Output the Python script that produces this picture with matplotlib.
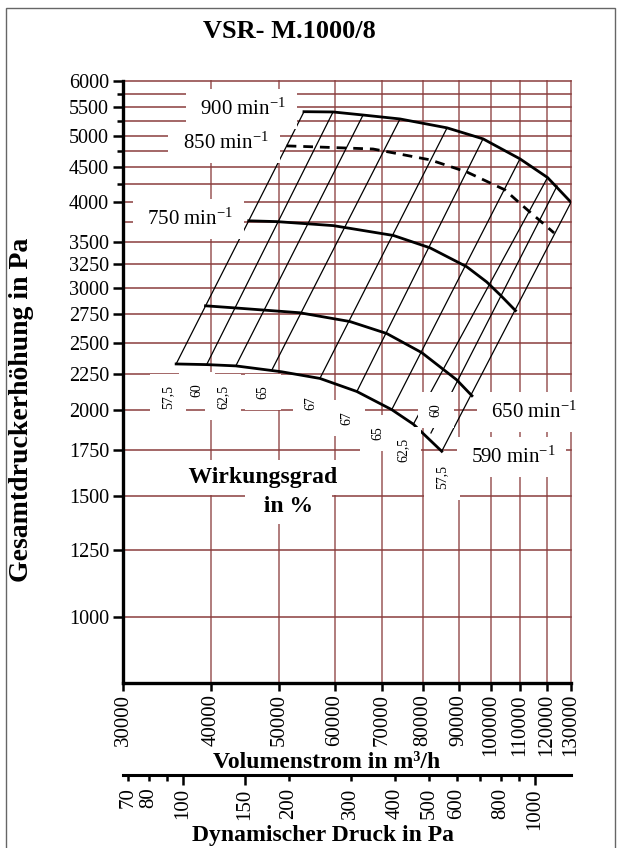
import numpy as np
import matplotlib.pyplot as plt
from matplotlib.ticker import FixedLocator, FuncFormatter, NullFormatter, NullLocator
from matplotlib.patches import Rectangle

plt.rcParams["font.family"] = ["Liberation Serif", "DejaVu Serif"]
plt.rcParams["mathtext.fontset"] = "custom"
plt.rcParams["mathtext.rm"] = "Liberation Serif"
plt.rcParams["mathtext.it"] = "Liberation Serif:italic"
plt.rcParams["mathtext.bf"] = "Liberation Serif:bold"

TITLE = "VSR- M.1000/8"

# Fan curves, total pressure (Pa) over volume flow (m3/h).
Q_900 = [54250, 59660, 65820, 74280, 86650, 97470, 110000, 120400, 130000]
P_900 = [5415, 5410, 5355, 5285, 5130, 4945, 4625, 4345, 4000]

Q_850 = [51250, 55900, 68000, 81950, 92500, 104700, 111100, 117500, 123000]
P_850 = [4830, 4815, 4780, 4610, 4425, 4170, 3950, 3760, 3610]

Q_750 = [45270, 49600, 59700, 72700, 81950, 92400, 98650, 103100, 108400]
P_750 = [3760, 3750, 3700, 3580, 3435, 3225, 3065, 2935, 2785]

Q_650 = [39300, 43300, 53500, 63050, 71100, 79750, 89400, 94000]
P_650 = [2830, 2810, 2765, 2685, 2580, 2420, 2210, 2095]

Q_590 = [35700, 39450, 43400, 50400, 57150, 64500, 72300, 77600, 85150]
P_590 = [2330, 2325, 2315, 2270, 2220, 2125, 2000, 1905, 1740]

# Efficiency lines: end on the 590 curve (low) and on the 900 curve (high).
ETA_Q_LOW = [35700, 39450, 43400, 48840, 57150, 64500, 72300, 77600, 82200, 85150]
ETA_P_LOW = [2330, 2325, 2315, 2284, 2220, 2125, 2000, 1905, 1850, 1740]
ETA_Q_HIGH = [54250, 59660, 65820, 74280, 86650, 97470, 110000, 120400, 124200, 130000]
ETA_P_HIGH = [5415, 5410, 5355, 5285, 5130, 4945, 4625, 4345, 4224, 4000]
ETA_LABELS = ["57,5", "60", "62,5", "65", "67", "67", "65", "62,5", "60", "57,5"]
ETA_LABEL_Q = [34760, 38210, 41620, 47440, 55510, 62450, 69130, 75010, 83590, 85250]
ETA_LABEL_P = [2086, 2136, 2086, 2122, 2045, 1945, 1850, 1748, 1998, 1597]

X_TICKS = [30000, 40000, 50000, 60000, 70000, 80000, 90000,
           100000, 110000, 120000, 130000]
Y_TICKS = [1000, 1250, 1500, 1750, 2000, 2250, 2500, 2750, 3000, 3250,
           3500, 4000, 4500, 5000, 5500, 6000]
Y_MINOR = [4250, 4750, 5250, 5750]
Y_GRID = list(range(1000, 6001, 250))

PD_MAJOR = [100, 150, 1000]
PD_MINOR = [70, 80, 90, 200, 300, 400, 500, 600, 700, 800, 900]
PD_LABELED = [70, 80, 100, 150, 200, 300, 400, 500, 600, 800, 1000]

DUCT_D = 1.0      # m, outlet diameter
AIR_RHO = 1.2     # kg/m3


def q_to_pd(q):
    q = np.asarray(q, dtype=float)
    v = q / 3600.0 / (np.pi / 4 * DUCT_D ** 2)
    return 0.5 * AIR_RHO * v ** 2


def pd_to_q(pd):
    pd = np.clip(np.asarray(pd, dtype=float), 1e-9, None)
    v = np.sqrt(2 * pd / AIR_RHO)
    return v * 3600.0 * np.pi / 4 * DUCT_D ** 2


GRID_H = "#8a3d3d"
GRID_V = "#aa7272"

fig = plt.figure(figsize=(6.2, 8.48), dpi=100)
ax = fig.add_axes([123 / 620, 1 - 683 / 848, 448 / 620, 602 / 848])
ax.set_xscale("log")
ax.set_yscale("log")
ax.set_xlim(30000, 130000)
ax.set_ylim(802, 6000)

for q in X_TICKS[1:]:
    ax.axvline(q, color=GRID_V, lw=1.3, zorder=0.5, clip_on=False)
for p in Y_GRID:
    ax.axhline(p, color=GRID_H, lw=1.1, zorder=0.5, clip_on=False)

# efficiency lines
for ql, pl, qh, ph in zip(ETA_Q_LOW, ETA_P_LOW, ETA_Q_HIGH, ETA_P_HIGH):
    ax.plot([ql, qh], [pl, ph], color="black", lw=0.9, zorder=2)

# speed curves
ax.plot(Q_900, P_900, color="black", lw=2.0, zorder=3)
ax.plot(Q_850, P_850, color="black", lw=2.0, zorder=3, dashes=(3.5, 2.5))
ax.plot(Q_750, P_750, color="black", lw=2.0, zorder=3)
ax.plot(Q_650, P_650, color="black", lw=2.0, zorder=3)
ax.plot(Q_590, P_590, color="black", lw=2.0, zorder=3)

box = dict(boxstyle="square,pad=0.45", fc="white", ec="none")
ax.text(44200, 5356, " 900 min$^{-1}$ ", fontsize=15, ha="center", va="baseline",
        bbox=box, zorder=5)
ax.text(41750, 4779, " 850 min$^{-1}$ ", fontsize=15, ha="center", va="baseline",
        bbox=box, zorder=5)
ax.text(37170, 3708, " 750 min$^{-1}$ ", fontsize=15, ha="center", va="baseline",
        bbox=box, zorder=5)
ax.text(114230, 1945, " 650 min$^{-1}$", fontsize=15, ha="center", va="baseline",
        bbox=box, zorder=5, clip_on=False)
ax.text(107000, 1673, " 590 min$^{-1}$ ", fontsize=15, ha="center", va="baseline",
        bbox=box, zorder=5)

ebox = dict(boxstyle="square,pad=0.8", fc="white", ec="none")
for lab, q, p in zip(ETA_LABELS, ETA_LABEL_Q, ETA_LABEL_P):
    ax.text(q, p, lab, fontsize=10, rotation=90, ha="center", va="center",
            bbox=ebox, zorder=5)

ax.text(46970, 1565, " Wirkungsgrad", fontsize=17, fontweight="bold",
        ha="center", va="baseline", zorder=5,
        bbox=dict(boxstyle="square,pad=0.3", fc="white", ec="none"))
ax.text(51490, 1420, "  in %  ", fontsize=17, fontweight="bold",
        ha="center", va="baseline", zorder=5,
        bbox=dict(boxstyle="square,pad=0.3", fc="white", ec="none"))

# axes styling
for side in ("top", "right"):
    ax.spines[side].set_visible(False)
for side in ("left", "bottom"):
    ax.spines[side].set_linewidth(2.4)
    ax.spines[side].set_zorder(6)

ax.xaxis.set_major_locator(FixedLocator(X_TICKS))
ax.xaxis.set_minor_locator(NullLocator())
ax.xaxis.set_major_formatter(FuncFormatter(lambda v, pos: f"{v:.0f}"))
ax.yaxis.set_major_locator(FixedLocator(Y_TICKS))
ax.yaxis.set_minor_locator(FixedLocator(Y_MINOR))
ax.yaxis.set_major_formatter(FuncFormatter(lambda v, pos: f"{v:.0f}"))
ax.yaxis.set_minor_formatter(NullFormatter())

ax.tick_params(axis="x", which="major", length=6, width=1.8, direction="out",
               labelsize=15, labelrotation=90, pad=2)
ax.tick_params(axis="y", which="major", length=7, width=1.8, direction="out",
               labelsize=14.5, pad=3)
ax.tick_params(axis="y", which="minor", length=4.3, width=1.8, direction="out")

# dynamic pressure scale under the flow axis
sec = ax.secondary_xaxis(-0.153, functions=(q_to_pd, pd_to_q))
sec.spines["bottom"].set_linewidth(2.2)
sec.xaxis.set_major_locator(FixedLocator(PD_MAJOR))
sec.xaxis.set_minor_locator(FixedLocator(PD_MINOR))
sec.xaxis.set_major_formatter(FuncFormatter(lambda v, pos: f"{v:.0f}"))
sec.xaxis.set_minor_formatter(FuncFormatter(
    lambda v, pos: f"{v:.0f}" if int(round(v)) in PD_LABELED else ""))
sec.tick_params(axis="x", which="major", length=7.5, width=1.8, direction="out",
                labelsize=15, labelrotation=90, pad=2)
sec.tick_params(axis="x", which="minor", length=4, width=1.8, direction="out",
                labelsize=15, labelrotation=90, pad=5)

# texts outside the axes
fig.text(289 / 620, 1 - 32 / 848, TITLE, fontsize=19, fontweight="bold",
         ha="center", va="center")
fig.text(327 / 620, 1 - 768 / 848, "Volumenstrom in m³/h", fontsize=17,
         fontweight="bold", ha="center", va="baseline")
fig.text(323 / 620, 1 - 841 / 848, "Dynamischer Druck in Pa", fontsize=17,
         fontweight="bold", ha="center", va="baseline")
fig.text(22 / 620, 1 - 410 / 848, "Gesamtdruckerhöhung in Pa", fontsize=20,
         fontweight="bold", rotation=90, ha="center", va="center")

fig.patches.append(Rectangle((6 / 620, -0.05), 609 / 620, 1.05 - 8 / 848,
                             transform=fig.transFigure, fill=False,
                             ec="#666666", lw=1.0))

fig.savefig("out.png", dpi=100)
